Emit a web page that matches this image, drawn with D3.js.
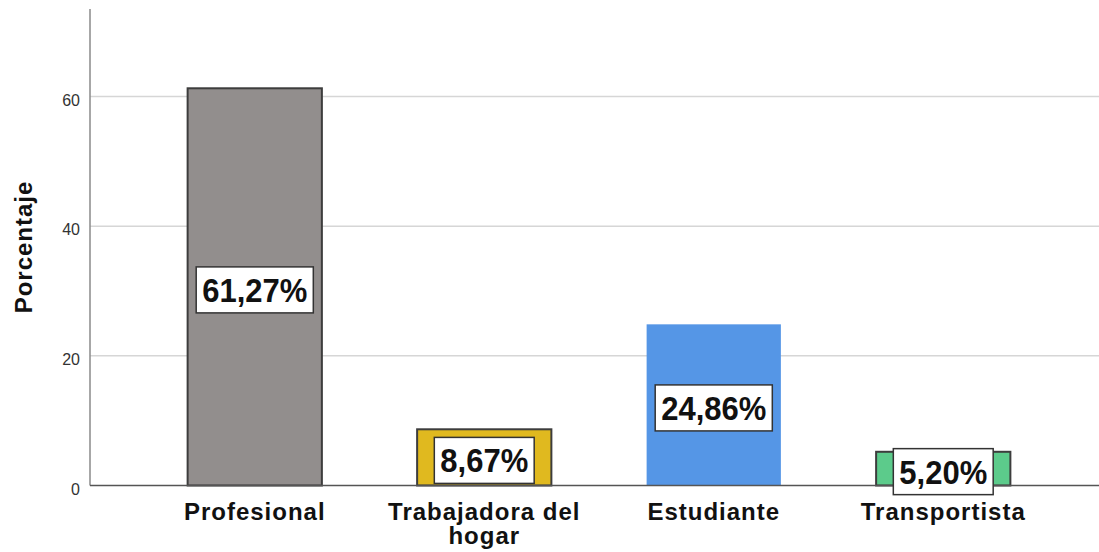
<!DOCTYPE html>
<html>
<head>
<meta charset="utf-8">
<script src="https://d3js.org/d3.v7.min.js"></script>
<style>
  html, body { margin: 0; padding: 0; background: #fff; }
  svg { display: block; font-family: "Liberation Sans", Arial, sans-serif; }
  .tick-label { font-size: 16px; fill: #333; }
  .cat-label { font-size: 24px; font-weight: bold; fill: #111; letter-spacing: 1px; }
  .axis-title { font-size: 24px; font-weight: bold; fill: #111; letter-spacing: 1px; }
  .val-label { font-size: 31px; font-weight: bold; fill: #111; }
</style>
</head>
<body>
<div id="chart"></div>
<script>
// data
const categories = ['Profesional', 'Trabajadora del hogar', 'Estudiante', 'Transportista'];
const categoryLines = [['Profesional'], ['Trabajadora del', 'hogar'], ['Estudiante'], ['Transportista']];
const percentages = [61.27, 8.67, 24.86, 5.20];
const valueLabels = ['61,27%', '8,67%', '24,86%', '5,20%'];
const barColors = ['#928e8d', '#e0b91f', '#5596e6', '#5ccb8b'];
const barStrokes = ['#3d3d3d', '#3d3d3d', 'none', '#3d3d3d'];
const yTicks = [0, 20, 40, 60];

const W = 1099, H = 552;
const svg = d3.select('#chart').append('svg')
  .attr('width', W).attr('height', H);

const x = d3.scaleBand().domain(categories)
  .range([140, 1058]).paddingInner(0.415).paddingOuter(0.2075);
const y = d3.scaleLinear().domain([0, 73.5]).range([485.5, 9]);

// grid
svg.append('g').selectAll('line').data(yTicks.filter(d => d > 0)).join('line')
  .attr('x1', 90).attr('x2', W)
  .attr('y1', d => y(d)).attr('y2', d => y(d))
  .attr('stroke', '#d6d6d6').attr('stroke-width', 1.5);

// y tick labels
svg.append('g').selectAll('text').data(yTicks).join('text')
  .attr('class', 'tick-label')
  .attr('x', 80).attr('y', d => y(d) + 9)
  .attr('text-anchor', 'end')
  .text(d => d);

// bars
const idx = d3.range(categories.length);
svg.append('g').selectAll('rect').data(idx).join('rect')
  .attr('x', i => x(categories[i]))
  .attr('y', i => y(percentages[i]))
  .attr('width', x.bandwidth())
  .attr('height', i => y(0) - y(percentages[i]))
  .attr('fill', i => barColors[i])
  .attr('stroke', i => barStrokes[i])
  .attr('stroke-width', 2);

// axes lines
svg.append('line').attr('x1', 90).attr('x2', 90).attr('y1', y.range()[1]).attr('y2', y(0))
  .attr('stroke', '#8a8a8a').attr('stroke-width', 1.5);
svg.append('line').attr('x1', 90).attr('x2', W).attr('y1', y(0)).attr('y2', y(0))
  .attr('stroke', '#555').attr('stroke-width', 1.5);

// value labels in boxes
const lab = svg.append('g').selectAll('g').data(idx).join('g')
  .attr('transform', i => {
    const cx = x(categories[i]) + x.bandwidth() / 2;
    const cy = (y(percentages[i]) + y(0)) / 2 + 3;
    return `translate(${cx},${cy})`;
  });
lab.append('text')
  .attr('class', 'val-label')
  .attr('text-anchor', 'middle')
  .attr('transform', 'scale(1,1.08)')
  .attr('y', 11)
  .text(i => valueLabels[i]);
lab.each(function() {
  const g = d3.select(this);
  const bb = g.select('text').node().getBBox();
  g.insert('rect', 'text')
    .attr('x', -bb.width / 2 - 6).attr('y', -23)
    .attr('width', bb.width + 12).attr('height', 46)
    .attr('fill', '#fff').attr('stroke', '#333').attr('stroke-width', 1.5);
});

// category labels
const cat = svg.append('g').selectAll('text').data(idx).join('text')
  .attr('class', 'cat-label')
  .attr('text-anchor', 'middle')
  .attr('x', i => x(categories[i]) + x.bandwidth() / 2)
  .attr('y', 520);
cat.selectAll('tspan').data(i => categoryLines[i].map(t => ({ t, cx: x(categories[i]) + x.bandwidth() / 2 })))
  .join('tspan')
  .attr('x', d => d.cx)
  .attr('dy', (d, j) => j === 0 ? 0 : 24)
  .text(d => d.t);

// y axis title
svg.append('text')
  .attr('class', 'axis-title')
  .attr('transform', 'translate(32,247) rotate(-90)')
  .attr('text-anchor', 'middle')
  .text('Porcentaje');
</script>
</body>
</html>
